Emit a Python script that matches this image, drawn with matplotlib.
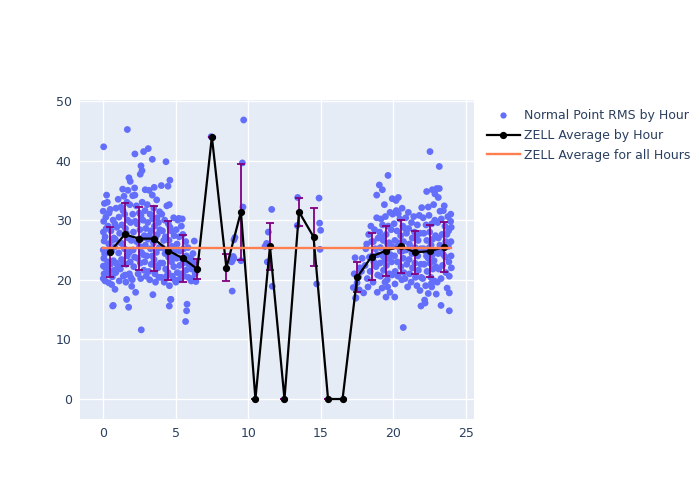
import numpy as np
import matplotlib
matplotlib.use('Agg')
import matplotlib.pyplot as plt
from matplotlib.lines import Line2D

# Normal point RMS values, grouped by hour
pts_h0 = [(0.05, 42.3), (0.25, 34.2), (0.6, 19.2), (0.83, 18.4), (0.71, 15.7), (0.67, 15.6),
          (0.02, 31.5), (0.05, 29.8), (0.03, 28.0), (0.08, 26.5), (0.02, 25.0), (0.06, 23.6),
          (0.03, 22.3), (0.08, 21.0), (0.02, 20.2), (0.1, 32.8), (0.15, 27.2), (0.12, 24.3),
          (0.18, 22.0), (0.2, 30.5), (0.3, 33.0), (0.35, 29.0), (0.4, 26.0), (0.32, 23.0),
          (0.45, 21.5), (0.5, 31.8), (0.55, 28.2), (0.6, 24.8), (0.52, 22.6), (0.65, 20.5),
          (0.7, 30.0), (0.75, 27.0), (0.8, 25.5), (0.72, 23.2), (0.88, 21.2), (0.9, 32.0),
          (0.95, 28.8), (0.85, 26.8), (0.92, 22.8), (0.4, 19.5), (0.15, 19.8), (0.28, 24.6),
          (0.22, 28.6), (0.42, 31.2), (0.62, 26.6), (0.82, 29.4), (0.38, 21.2), (0.78, 21.6)]
pts_h1 = [(1.68, 45.2), (1.79, 37.1), (1.88, 36.5), (1.36, 35.2), (1.98, 18.9), (1.63, 16.7),
          (1.77, 15.4), (1.05, 33.5), (1.1, 30.5), (1.15, 27.8), (1.08, 24.5), (1.2, 21.8),
          (1.25, 32.2), (1.3, 29.2), (1.35, 26.0), (1.28, 23.4), (1.4, 20.6), (1.45, 34.0),
          (1.5, 31.0), (1.55, 28.6), (1.48, 25.2), (1.6, 22.6), (1.65, 33.0), (1.7, 30.0),
          (1.75, 27.0), (1.68, 24.0), (1.82, 21.0), (1.85, 32.6), (1.9, 29.6), (1.95, 26.6),
          (1.88, 23.0), (1.92, 20.4), (1.12, 19.8), (1.58, 19.6), (1.38, 31.6), (1.72, 35.0),
          (1.22, 26.2), (1.42, 22.8), (1.62, 27.8), (1.82, 24.6), (1.02, 22.4), (1.52, 20.8)]
pts_h2 = [(2.2, 41.1), (2.8, 41.5), (2.69, 38.3), (2.57, 37.7), (2.62, 39.1), (2.18, 35.4),
          (2.91, 35.1), (2.05, 34.1), (2.2, 34.2), (2.25, 17.9), (2.64, 11.6), (2.05, 31.0),
          (2.1, 28.0), (2.08, 25.0), (2.12, 22.2), (2.02, 20.0), (2.3, 32.4), (2.35, 29.4),
          (2.32, 26.4), (2.38, 23.6), (2.42, 21.0), (2.5, 31.2), (2.55, 28.4), (2.52, 25.6),
          (2.58, 22.8), (2.6, 20.2), (2.7, 33.0), (2.75, 30.0), (2.72, 27.0), (2.78, 24.2),
          (2.82, 21.6), (2.9, 31.6), (2.95, 28.6), (2.92, 25.8), (2.88, 23.0), (2.98, 20.6),
          (2.22, 29.8), (2.45, 26.8), (2.65, 24.6), (2.85, 27.4), (2.18, 23.8), (2.62, 30.8)]
pts_h3 = [(3.12, 42.0), (3.4, 40.2), (3.53, 35.5), (3.4, 34.2), (3.44, 17.5), (3.05, 32.6),
          (3.08, 29.6), (3.1, 26.8), (3.02, 24.0), (3.15, 21.4), (3.25, 31.0), (3.3, 28.2),
          (3.28, 25.2), (3.32, 22.6), (3.22, 20.0), (3.5, 32.0), (3.55, 29.0), (3.48, 26.2),
          (3.52, 23.4), (3.58, 21.0), (3.7, 33.4), (3.72, 30.4), (3.75, 27.6), (3.68, 24.6),
          (3.78, 22.0), (3.9, 31.4), (3.92, 28.4), (3.88, 25.4), (3.95, 22.8), (3.85, 20.4),
          (3.62, 19.6), (3.18, 35.0), (3.2, 27.4), (3.4, 24.0), (3.62, 27.0), (3.82, 29.6),
          (3.42, 30.2), (3.6, 22.4)]
pts_h4 = [(4.02, 35.8), (4.48, 35.7), (4.34, 39.8), (4.61, 36.7), (4.57, 32.6), (4.87, 30.4),
          (4.68, 16.7), (4.57, 15.6), (4.66, 16.7), (4.05, 31.0), (4.1, 28.2), (4.08, 25.4),
          (4.12, 22.8), (4.02, 20.4), (4.25, 30.0), (4.3, 27.2), (4.28, 24.4), (4.32, 21.8),
          (4.22, 19.6), (4.5, 29.4), (4.55, 26.6), (4.52, 23.8), (4.48, 21.2), (4.58, 19.0),
          (4.7, 28.2), (4.75, 25.6), (4.72, 23.0), (4.78, 20.6), (4.9, 27.4), (4.92, 24.8),
          (4.88, 22.2), (4.95, 20.0), (4.4, 32.4), (4.18, 26.6), (4.4, 25.0), (4.62, 28.8),
          (4.82, 23.8), (4.38, 20.6)]
pts_h5 = [(5.23, 30.3), (5.46, 30.2), (5.79, 15.9), (5.76, 14.8), (5.69, 13.0), (5.05, 28.4),
          (5.1, 26.0), (5.08, 23.6), (5.12, 21.2), (5.02, 19.6), (5.25, 27.2), (5.3, 24.8),
          (5.28, 22.4), (5.32, 20.2), (5.5, 27.6), (5.55, 25.2), (5.52, 22.8), (5.58, 20.6),
          (5.7, 26.4), (5.75, 24.0), (5.72, 21.6), (5.85, 25.4), (5.9, 22.6), (5.88, 20.4),
          (5.4, 29.0), (5.15, 30.0), (5.18, 25.0), (5.42, 23.6), (5.62, 23.4), (5.42, 21.0)]
pts_h6 = [(6.29, 26.5), (6.40, 19.7), (6.05, 23.6), (6.1, 21.8), (6.15, 20.2), (6.25, 22.8),
          (6.35, 21.0), (6.2, 24.4), (6.08, 19.8)]
pts_sparse = [(7.45, 44.0), (9.09, 27.1), (9.02, 26.7), (8.97, 23.9), (8.9, 23.2), (9.02, 23.6),
              (8.86, 23.0), (8.9, 18.1), (9.69, 46.8), (9.6, 39.6), (9.64, 32.2), (9.5, 23.2),
              (11.62, 31.8), (11.39, 28.0), (11.27, 26.1), (11.16, 25.6), (11.32, 23.0),
              (11.66, 18.9), (13.41, 33.8), (13.38, 29.1), (14.88, 33.7), (14.92, 29.5),
              (14.99, 28.3), (14.95, 25.1), (14.72, 19.3)]
pts_h17 = [(17.36, 23.7), (17.24, 18.7), (17.42, 17.0), (17.4, 16.9), (17.95, 17.8), (17.6, 20.5),
           (17.7, 22.0), (17.5, 19.5), (17.8, 21.4), (17.85, 23.6), (17.3, 21.0), (17.65, 18.3)]
pts_h18 = [(18.85, 34.2), (18.85, 30.4), (18.89, 17.9), (18.16, 26.0), (18.05, 22.4), (18.1, 25.2),
           (18.2, 20.2), (18.3, 27.6), (18.35, 23.8), (18.4, 21.4), (18.5, 26.4), (18.55, 24.0),
           (18.6, 19.6), (18.7, 28.4), (18.75, 25.2), (18.8, 22.2), (18.95, 27.0), (18.92, 20.8),
           (18.45, 29.0), (18.65, 23.0), (18.25, 18.8), (18.62, 26.4), (18.9, 24.2)]
pts_h19 = [(19.63, 37.5), (19.03, 35.9), (19.24, 35.1), (19.92, 33.6), (19.77, 31.3), (19.15, 30.2),
           (19.49, 17.1), (19.77, 17.9), (19.42, 19.6), (19.05, 28.0), (19.1, 25.4), (19.08, 22.8),
           (19.12, 20.6), (19.25, 29.2), (19.3, 26.6), (19.28, 24.0), (19.32, 21.6), (19.22, 18.6),
           (19.45, 30.6), (19.5, 27.6), (19.48, 25.0), (19.52, 22.4), (19.58, 20.0), (19.65, 29.0),
           (19.7, 26.2), (19.68, 23.6), (19.72, 21.0), (19.85, 28.4), (19.9, 25.6), (19.88, 23.0),
           (19.92, 20.8), (19.95, 31.0), (19.38, 32.6), (19.6, 18.8), (19.18, 27.2), (19.4, 23.2),
           (19.6, 26.0), (19.8, 24.2)]
pts_h20 = [(20.18, 33.3), (20.34, 33.8), (20.34, 31.1), (20.09, 17.1), (20.11, 19.3), (20.68, 12.0),
           (20.98, 18.8), (20.05, 29.4), (20.1, 26.6), (20.08, 24.0), (20.12, 21.4), (20.25, 28.2),
           (20.3, 25.6), (20.28, 23.0), (20.32, 20.6), (20.45, 30.2), (20.5, 27.4), (20.48, 24.8),
           (20.52, 22.2), (20.58, 20.0), (20.65, 29.0), (20.7, 26.4), (20.68, 23.6), (20.72, 21.2),
           (20.85, 30.4), (20.9, 27.8), (20.88, 25.0), (20.92, 22.6), (20.6, 32.0), (20.2, 31.6),
           (20.8, 20.2), (20.4, 26.2), (20.62, 24.8), (20.8, 28.6)]
pts_h21 = [(21.03, 31.3), (21.95, 32.1), (21.83, 18.2), (21.9, 15.6), (21.05, 28.6), (21.1, 26.0),
           (21.08, 23.4), (21.12, 21.0), (21.25, 29.6), (21.3, 27.0), (21.28, 24.4), (21.32, 22.0),
           (21.22, 19.6), (21.45, 28.0), (21.5, 25.4), (21.48, 22.8), (21.52, 20.4), (21.65, 29.2),
           (21.7, 26.6), (21.68, 24.0), (21.72, 21.6), (21.62, 19.0), (21.85, 27.8), (21.9, 25.2),
           (21.88, 22.6), (21.92, 20.4), (21.4, 30.6), (21.78, 30.8), (21.2, 25.4), (21.58, 27.2)]
pts_h22 = [(22.52, 41.5), (22.29, 34.8), (22.68, 35.1), (22.98, 35.3), (22.86, 34.4), (22.77, 32.6),
           (22.18, 16.1), (22.4, 17.7), (22.64, 18.8), (22.05, 30.4), (22.1, 27.8), (22.08, 25.2),
           (22.12, 22.6), (22.02, 20.2), (22.25, 29.2), (22.3, 26.6), (22.28, 24.0), (22.32, 21.4),
           (22.22, 19.0), (22.45, 30.8), (22.5, 28.0), (22.48, 25.4), (22.52, 22.8), (22.58, 20.4),
           (22.65, 29.4), (22.7, 26.8), (22.68, 24.2), (22.72, 21.8), (22.62, 19.4), (22.85, 30.0),
           (22.9, 27.4), (22.88, 24.8), (22.92, 22.2), (22.82, 19.8), (22.4, 32.2), (22.95, 17.6),
           (22.15, 16.6), (22.2, 24.8), (22.4, 23.6), (22.6, 25.8), (22.8, 23.2)]
pts_h23 = [(23.16, 39.0), (23.16, 35.3), (23.09, 33.8), (23.21, 31.5), (23.44, 31.6), (23.85, 14.8),
           (23.28, 15.7), (23.85, 17.8), (23.05, 29.6), (23.1, 27.0), (23.08, 24.4), (23.12, 21.8),
           (23.02, 19.6), (23.3, 30.2), (23.35, 27.6), (23.32, 25.0), (23.38, 22.4), (23.28, 20.2),
           (23.55, 29.0), (23.6, 26.4), (23.58, 23.8), (23.62, 21.2), (23.75, 30.6), (23.8, 28.2),
           (23.78, 25.6), (23.82, 23.0), (23.85, 20.6), (23.95, 31.0), (23.98, 28.8), (23.96, 26.4),
           (23.97, 24.0), (23.99, 22.0), (23.94, 29.8), (23.5, 32.4), (23.7, 18.6), (23.2, 25.8),
           (23.45, 24.2), (23.68, 27.6)]

# Hourly averages and standard deviations
hour_centers = [0.5, 1.5, 2.5, 3.5, 4.5, 5.5, 6.5, 7.5, 8.5, 9.5, 10.5, 11.5,
                12.5, 13.5, 14.5, 15.5, 16.5, 17.5, 18.5, 19.5, 20.5, 21.5, 22.5, 23.5]
hour_avg = [24.7, 27.6, 26.9, 26.9, 24.9, 23.6, 21.8, 44.0, 22.0, 31.4, 0.0, 25.6,
            0.0, 31.4, 27.2, 0.0, 0.0, 20.4, 23.9, 24.9, 25.6, 24.6, 24.8, 25.5]
hour_std = [4.2, 5.3, 5.3, 5.5, 5.0, 3.9, 1.75, 0.0, 2.25, 8.1, 0.0, 4.0,
            0.0, 2.3, 4.85, 0.0, 0.0, 2.5, 3.9, 4.2, 4.45, 3.6, 4.4, 4.2]
overall_avg = 25.3

all_pts = (pts_h0 + pts_h1 + pts_h2 + pts_h3 + pts_h4 + pts_h5 + pts_h6 + pts_sparse +
           pts_h17 + pts_h18 + pts_h19 + pts_h20 + pts_h21 + pts_h22 + pts_h23)
px = np.array([p[0] for p in all_pts])
py = np.array([p[1] for p in all_pts])

text_color = '#2a3f5f'
fig = plt.figure(figsize=(7, 5), dpi=100)
ax = fig.add_axes([80 / 700, 1 - 419 / 500, 394 / 700, 319 / 500])
ax.set_facecolor('#E5ECF6')
for s in ax.spines.values():
    s.set_visible(False)

ax.scatter(px, py, s=24, color='#636efa', edgecolors='none', zorder=2)

ax.errorbar(hour_centers, hour_avg, yerr=hour_std, color='black', linewidth=1.6,
            marker='o', markersize=4.2, ecolor='purple', elinewidth=1.3,
            capsize=3, capthick=1.3, zorder=3)

ax.plot([px.min(), px.max()], [overall_avg, overall_avg], color='#FF7F50',
        linewidth=1.7, zorder=4)

ax.set_xlim(-1.58, 25.55)
ax.set_ylim(-3.35, 50.15)
ax.set_xticks([0, 5, 10, 15, 20, 25])
ax.set_yticks([0, 10, 20, 30, 40, 50])
ax.grid(True, color='white', linewidth=1.0, zorder=0)
ax.set_axisbelow(True)
ax.tick_params(length=0, labelsize=9, colors=text_color, pad=6)

handles = [
    Line2D([], [], linestyle='none', marker='o', markersize=4.5,
           markerfacecolor='#636efa', markeredgecolor='none'),
    Line2D([], [], color='black', linewidth=1.6, marker='o', markersize=4.2),
    Line2D([], [], color='#FF7F50', linewidth=1.7),
]
labels = ['Normal Point RMS by Hour', 'ZELL Average by Hour', 'ZELL Average for all Hours']
fig.legend(handles, labels, loc='upper left', bbox_to_anchor=(482 / 700, 1 - 104 / 500),
           frameon=False, fontsize=9, labelcolor=text_color, handlelength=2.6,
           handletextpad=0.4, labelspacing=0.55, borderaxespad=0)

fig.savefig('out.png', dpi=100)
